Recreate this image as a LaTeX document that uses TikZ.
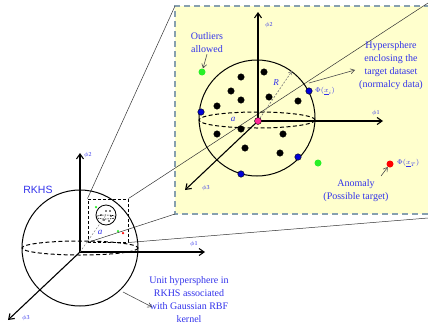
\documentclass[tikz,border=0pt]{standalone}
\usepackage{fontspec}
\setmainfont{Liberation Serif}
\newfontfamily\rkhsfont{Liberation Sans}
\usetikzlibrary{arrows.meta}
\definecolor{lblue}{RGB}{50,50,235}
\definecolor{zfill}{RGB}{255,255,205}
\definecolor{zedge}{RGB}{135,160,175}
\definecolor{ptblue}{RGB}{0,0,215}
\definecolor{ptgreen}{RGB}{40,240,40}
\definecolor{ptpink}{RGB}{255,40,150}

\begin{document}
\begin{tikzpicture}[x=1pt, y=-1pt,
        axarr/.style ={-{Straight Barb[length=5pt, width=7pt]}, line width=1.1pt},
        parr/.style  ={-{Straight Barb[length=4pt, width=5pt]}, line width=0.6pt, black!70},
        zline/.style ={line width=0.5pt, black!80},
        eqline/.style={line width=1pt, dash pattern=on 4pt off 2.5pt},
        lbl/.style   ={font=\fontsize{10}{13}\selectfont, text=lblue, align=center, inner sep=1pt},
        phi/.style   ={font=\fontsize{6}{7}\selectfont, text=lblue, inner sep=0pt},
        dot/.style   ={circle, draw=black, line width=0.4pt, fill=black, inner sep=0pt, minimum size=6.5pt},
        tdot/.style  ={circle, fill=black, inner sep=0pt, minimum size=1.6pt},]

    \useasboundingbox (0,0) rectangle (428,324);

    \fill[zfill] (175,6) rectangle (430,214);
    \draw[zedge, line width=1.2pt, dash pattern=on 6pt off 4pt]
        (430,6) -- (175,6) -- (175,214) -- (430,214);

    \coordinate (ZTL) at (175,6);
    \coordinate (ZTR) at (428,3);
    \coordinate (ZBL) at (175,214);
    \coordinate (ZBR) at (428,218);

    \node[draw, line width=1pt, dash pattern=on 3pt off 2pt, minimum width=40pt,
        minimum height=43pt, inner sep=0pt] (box) at (108,220.5) {};

    \draw[zline] (box.north west) -- (ZTL);
    \draw[zline] (box.north east) -- (ZTR);
    \draw[zline] (box.south west) -- (ZBL);
    \draw[zline] (box.south east) -- (ZBR);

    \coordinate (O)  at (80,252);
    \coordinate (P1) at (205,252);
    \coordinate (P2) at (80,153);
    \coordinate (P3) at (8,320);
    \draw[line width=1pt] (80,248) circle[radius=58];
    \draw[eqline] (80,248) ellipse[x radius=58, y radius=7];
    \draw[axarr] (O) -- (P1);
    \draw[axarr] (O) -- (P2);
    \draw[axarr] (O) -- (P3);
    \node[phi, anchor=west] (l1) at (190,244) {$\phi$1};
    \node[phi, anchor=west] (l2) at (84,155) {$\phi$2};
    \node[phi, anchor=west] (l3) at (22,318) {$\phi$3};
    \node[font=\rkhsfont\fontsize{10.5}{12}\selectfont, text=lblue] (rkhs) at (38,190) {RKHS};

    \coordinate (S) at (106,215);
    \draw[line width=0.8pt] (S) circle[radius=10];
    \draw[line width=0.6pt, dash pattern=on 1.5pt off 1pt] (106,217) ellipse[x radius=10, y radius=2];
    \foreach \x/\y [count=\i] in {106/211, 110/211, 101/215, 111/216, 104/220, 109/221}
        \node[tdot] (s\i) at (\x,\y) {};
    \node[circle, fill=ptgreen, inner sep=0pt, minimum size=2.5pt] (sg1) at (96,207) {};
    \node[circle, fill=ptgreen, inner sep=0pt, minimum size=2.5pt] (sg2) at (118,231) {};
    \node[circle, fill=red, inner sep=0pt, minimum size=2.5pt] (sr) at (123,233) {};
    \draw[black!55, line width=0.4pt, dash pattern=on 2pt off 1.5pt] (O) -- (S);
    \node[font=\fontsize{9}{10}\selectfont\itshape, text=lblue] (sa) at (100,232) {a};

    \node[lbl] (unit) at (189,300)
        {Unit hypersphere in\\RKHS associated\\with Gaussian RBF\\kernel};
    \coordinate (uc) at (123,292);
    \coordinate (ue) at (152,307);
    \draw[parr] (uc) -- (ue);

    \coordinate (O2) at (258,121);
    \coordinate (Q1) at (383,121);
    \coordinate (Q2) at (258,12);
    \coordinate (Q3) at (185,190);
    \draw[line width=1pt] (257,118) circle[radius=58];
    \draw[eqline] (257,120) ellipse[x radius=58, y radius=8];
    \draw[axarr] (O2) -- (Q1);
    \draw[axarr] (O2) -- (Q2);
    \draw[axarr] (O2) -- (Q3);
    \node[phi, anchor=west] (m1) at (372,113) {$\phi$1};
    \node[phi, anchor=west] (m2) at (265,25) {$\phi$2};
    \node[phi, anchor=west] (m3) at (202,188) {$\phi$3};

    \coordinate (Rt) at (292,71);
    \draw[black!55, line width=0.6pt, dash pattern=on 2pt off 1.5pt,
        -{Straight Barb[length=3pt, width=4pt]}] (O2) -- (Rt);
    \node[font=\fontsize{9}{10}\selectfont\itshape, text=lblue] (rr) at (276,83) {R};
    \node[font=\fontsize{9}{10}\selectfont\itshape, text=lblue] (aa) at (233,119) {a};

    \foreach \x/\y [count=\i] in {264/72, 241/77, 231/91, 269/97, 241/100, 298/101,
        217/106, 241/129, 217/134, 283/134, 245/148, 280/153}
        \node[dot] (b\i) at (\x,\y) {};
    \foreach \x/\y [count=\i] in {309/91, 201/112, 298/157, 241/174}
        \node[dot, fill=ptblue] (x\i) at (\x,\y) {};
    \node[dot, fill=ptgreen, draw=none, minimum size=7pt] (g1) at (202,72) {};
    \node[dot, fill=ptgreen, draw=none, minimum size=7pt] (g2) at (318,163) {};
    \node[dot, fill=red, draw=none, minimum size=7pt] (xt) at (390,164) {};
    \node[dot, fill=ptpink, minimum size=7pt] (ctr) at (258,121) {};

    \node[phi, font=\fontsize{7.5}{9}\selectfont, anchor=west] (phii) at (315,91)
        {$\Phi(\underline{x}_i)$};
    \node[phi, font=\fontsize{7.5}{9}\selectfont, anchor=west] (phit) at (397,163)
        {$\Phi(\underline{x}_T)$};

    \node[lbl] (out) at (207,43) {Outliers\\allowed};
    \draw[parr] (out.south) -- (g1);

    \node[lbl] (hyp) at (391,66) {Hypersphere\\enclosing the\\target dataset\\(normalcy data)};
    \coordinate (hs) at (309,83);
    \coordinate (he) at (355,70);
    \draw[parr] (hs) -- (he);

    \node[lbl] (anom) at (356,191) {Anomaly\\(Possible target)};
    \coordinate (as) at (381,176);
    \draw[parr] (as) -- (xt);
\end{tikzpicture}
\end{document}
